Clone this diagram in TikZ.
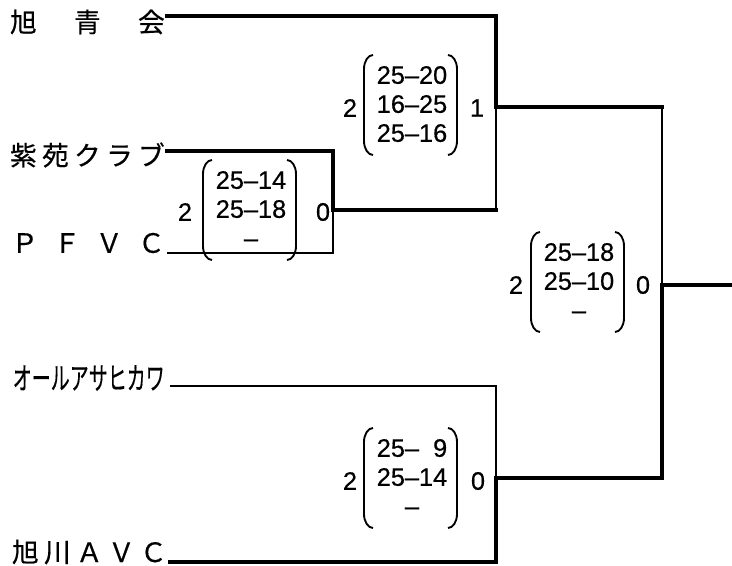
\documentclass[tikz,border=0pt]{standalone}
\usepackage{fontspec}
\usepackage{graphicx}
\setmainfont{Noto Sans CJK JP}[FakeBold=0.5]
\newfontfamily\scorefont{Liberation Sans}[FakeBold=0.5]

\newcommand\teamfont{\fontsize{20pt}{24pt}\selectfont}
\newcommand\spreadname[2][116pt]{\makebox[#1][s]{#2}}
\newcommand\setlist[3]{\begin{tabular}{@{}c@{}}#1\\#2\\#3\end{tabular}}
% round brackets around a score node
\newcommand\parens[1]{%
  \draw[paren] ([shift={(-39,-52)}]#1.center)
    arc[start angle = -90, end angle = -180, x radius = 9, y radius = 14]
    -- ++(0,72)
    arc[start angle = 180, end angle = 90, x radius = 9, y radius = 14];
  \draw[paren] ([shift={(36,-52)}]#1.center)
    arc[start angle = -90, end angle = 0, x radius = 9, y radius = 14]
    -- ++(0,72)
    arc[start angle = 0, end angle = 90, x radius = 9, y radius = 14];
}

\begin{document}
\begin{tikzpicture}[
      x = .75pt, y = -.75pt,
      team/.style = {
        anchor = east,
        inner sep = 0,
        font = \teamfont,
      },
      sets/.style = {
        inner sep = 0,
        font = \scorefont\fontsize{19pt}{21.75pt}\selectfont,
      },
      count/.style = {
        inner sep = 0,
        font = \scorefont\fontsize{19pt}{21.75pt}\selectfont,
      },
      win/.style = {line width = 3pt, line cap = rect},
      mid/.style = {line width = 2pt},
      lose/.style = {line width = 1.1pt},
      paren/.style = {line width = 1.4pt},
    ]
    \useasboundingbox (0,0) rectangle (732,566);

    % teams
    \node[team] (t1) at (165,22)  {\spreadname{旭\hfill 青\hfill 会}};
    \node[team] (t2) at (165,155) {\spreadname{紫\hfill 苑\hfill ク\hfill ラ\hfill ブ}};
    \node[team] (t3) at (165,243) {\spreadname[115pt]{Ｐ\hfill Ｆ\hfill Ｖ\hfill Ｃ}};
    \node[team] (t4) at (165,378) {\resizebox{114pt}{1.15\height}{オールアサヒカワ}};
    \node[team] (t5) at (167,552) {\spreadname{旭\hfill 川\hfill Ａ\hfill Ｖ\hfill Ｃ}};

    \coordinate (p1) at (167,16);
    \coordinate (p2) at (167,151);
    \coordinate (p3) at (167,253);
    \coordinate (p4) at (170,386);
    \coordinate (p5) at (170,562);

    \coordinate (j2) at (333,210);
    \coordinate (j1) at (496,107);
    \coordinate (j4) at (496,478);
    \coordinate (j3) at (662,285);
    \coordinate (champ) at (732,285);

    % scores
    \node[sets] (m2) at (251,212) {\setlist{25–14}{25–18}{–}};
    \node[count] (m2a) at (185,212) {2};
    \node[count] (m2b) at (323,212) {0};
    \parens{m2}

    \node[sets] (m1) at (412,107) {\setlist{25–20}{16–25}{25–16}};
    \node[count] (m1a) at (350,108) {2};
    \node[count] (m1b) at (477,108) {1};
    \parens{m1}

    \node[sets] (m4) at (412,480) {\setlist{25–\phantom{0}9}{25–14}{–}};
    \node[count] (m4a) at (350,481) {2};
    \node[count] (m4b) at (478,481) {0};
    \parens{m4}

    \node[sets] (m3) at (579,284) {\setlist{25–18}{25–10}{–}};
    \node[count] (m3a) at (516,285) {2};
    \node[count] (m3b) at (643,285) {0};
    \parens{m3}

    % bracket lines
    \draw[win]  (p1) -| (j1);
    \draw[win]  (p2) -| (j2);
    \draw[lose] (p3) -| (j2);
    \draw[win]  (j2) -- (j2 -| j1);
    \draw[lose] (j2 -| j1) -- (j1);
    \draw[win]  (j1) -- (j1 -| j3);
    \draw[mid]  (j1 -| j3) -- (j3);
    \draw[lose] (p4) -| (j4);
    \draw[win]  (p5) -| (j4);
    \draw[win]  (j4) -| (j3);
    \draw[win]  (j3) -- (champ);

  \end{tikzpicture}
\end{document}
